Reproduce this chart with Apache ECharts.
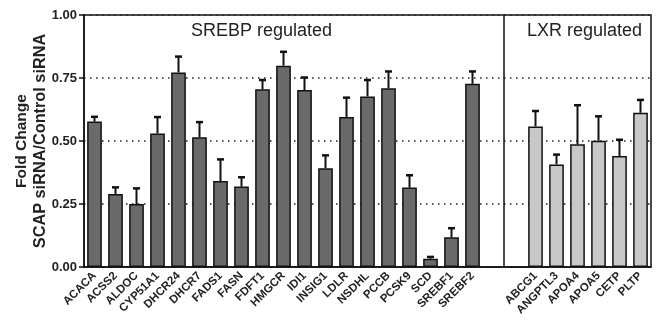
<!DOCTYPE html>
<html>
<head>
<meta charset="utf-8">
<script src="https://cdn.jsdelivr.net/npm/echarts@6/dist/echarts.min.js"></script>
<style>
  html, body { margin: 0; padding: 0; background: #fff; }
  #chart { width: 657px; height: 322px; }
</style>
</head>
<body>
<div id="chart"></div>
<script>
// SREBP target genes
var srebpGenes = ['ACACA', 'ACSS2', 'ALDOC', 'CYP51A1', 'DHCR24', 'DHCR7', 'FADS1', 'FASN', 'FDFT1', 'HMGCR',
  'IDI1', 'INSIG1', 'LDLR', 'NSDHL', 'PCCB', 'PCSK9', 'SCD', 'SREBF1', 'SREBF2']
var srebpValues = [0.577, 0.290, 0.250, 0.530, 0.772, 0.515, 0.341, 0.319, 0.705, 0.799,
  0.702, 0.392, 0.595, 0.677, 0.709, 0.315, 0.033, 0.118, 0.727]
var srebpErrors = [0.019, 0.026, 0.062, 0.065, 0.063, 0.060, 0.086, 0.037, 0.037, 0.055,
  0.050, 0.051, 0.077, 0.065, 0.067, 0.049, 0.007, 0.036, 0.049]

// LXR target genes
var lxrGenes = ['ABCG1', 'ANGPTL3', 'APOA4', 'APOA5', 'CETP', 'PLTP']
var lxrValues = [0.558, 0.407, 0.487, 0.501, 0.440, 0.612]
var lxrErrors = [0.061, 0.039, 0.155, 0.097, 0.065, 0.051]

var gap = ['', ' ']   // two empty slots between the groups
var categories = srebpGenes.concat(gap, lxrGenes)
var splitAt = srebpGenes.length + 1   // divider sits between the two empty slots

var barData = [], errData = []
srebpValues.forEach(function (v, i) {
  barData.push({ value: v, itemStyle: { color: '#6a6a6a' } })
  errData.push([i, v, srebpErrors[i]])
})
gap.forEach(function () { barData.push(null) })
var off = srebpGenes.length + gap.length
lxrValues.forEach(function (v, i) {
  barData.push({ value: v, itemStyle: { color: '#c8c8c8' } })
  errData.push([off + i, v, lxrErrors[i]])
})

var chart = echarts.init(document.getElementById('chart'))

chart.setOption({
  animation: false,
  textStyle: { fontFamily: 'Liberation Sans, Arial, sans-serif' },
  title: [
    { text: 'SREBP regulated', left: 186, top: 17,
      textStyle: { fontSize: 18, fontWeight: 'normal', color: '#222' } },
    { text: 'LXR regulated', left: 522, top: 17,
      textStyle: { fontSize: 18, fontWeight: 'normal', color: '#222' } }
  ],
  grid: {
    left: 84, right: 6, top: 15, bottom: 55,
    outerBoundsMode: 'none', containLabel: false,
    show: true, borderColor: '#111', borderWidth: 1.5, backgroundColor: 'transparent'
  },
  xAxis: [{
    type: 'category',
    data: categories,
    axisLine: { lineStyle: { color: '#111', width: 1.5 } },
    axisTick: { alignWithLabel: true, interval: 0, length: 4, lineStyle: { color: '#111', width: 1.5 } },
    axisLabel: { interval: 0, rotate: 45, margin: 7, fontSize: 11.5, fontWeight: 'bold', color: '#222' }
  }, {
    // hidden helper axis, used only to place the group divider between slots
    type: 'value',
    min: 0, max: categories.length,
    show: false
  }],
  yAxis: {
    type: 'value',
    min: 0, max: 1, interval: 0.25,
    name: '{a|Fold Change}\n{b|SCAP siRNA/Control siRNA}',
    nameLocation: 'middle',
    nameGap: 34,
    nameMoveOverlap: false,
    nameTextStyle: {
      color: '#222', fontWeight: 'bold', fontSize: 15,
      rich: {
        a: { fontSize: 15.5, fontWeight: 'bold', color: '#222', lineHeight: 19 },
        b: { fontSize: 16.3, fontWeight: 'bold', color: '#222', lineHeight: 19 }
      }
    },
    axisLine: { show: true, lineStyle: { color: '#111', width: 1.5 } },
    axisTick: { show: true, length: 5, lineStyle: { color: '#111', width: 1.5 } },
    axisLabel: {
      margin: 7, fontSize: 13, fontWeight: 'bold', color: '#222',
      formatter: function (v) { return v.toFixed(2) }
    },
    splitLine: { lineStyle: { color: '#222', width: 1.5, type: [1.5, 4.5] } }
  },
  series: [
    {
      type: 'bar',
      data: barData,
      barWidth: '70%',
      itemStyle: { borderColor: '#111', borderWidth: 1.5 },
      z: 3
    },
    {
      type: 'custom',
      data: errData,
      z: 4,
      renderItem: function (params, api) {
        var x = api.value(0)
        var base = api.coord([x, api.value(1)])
        var top = api.coord([x, api.value(1) + api.value(2)])
        var half = 3.5
        return {
          type: 'group',
          children: [
            { type: 'line', shape: { x1: base[0], y1: base[1], x2: top[0], y2: top[1] },
              style: { stroke: '#111', lineWidth: 2 } },
            { type: 'line', shape: { x1: top[0] - half, y1: top[1], x2: top[0] + half, y2: top[1] },
              style: { stroke: '#111', lineWidth: 2.5 } }
          ]
        }
      }
    },
    {
      type: 'line',
      xAxisIndex: 1,
      data: [],
      markLine: {
        silent: true,
        symbol: 'none',
        label: { show: false },
        lineStyle: { color: '#111', width: 1.5, type: 'solid' },
        data: [{ xAxis: splitAt }]
      }
    }
  ]
})
</script>
</body>
</html>
